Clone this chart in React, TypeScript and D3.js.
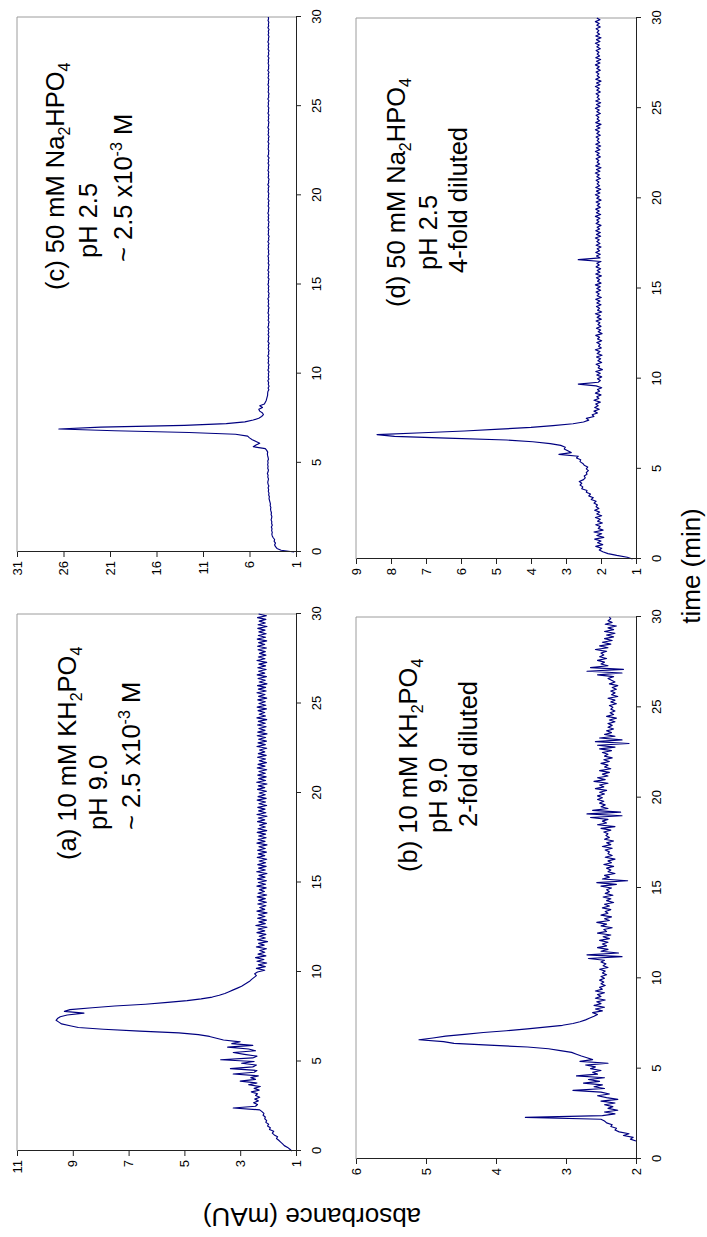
import React, { useRef, useEffect } from "react";
import * as d3 from "d3";

// The figure is laid out landscape (W x H) and then turned a quarter turn
// counter-clockwise to fit the portrait page, like the scanned original.
const PAGE_W = 707;
const PAGE_H = 1237;

const STEP = 0.1; // detector sampling step (min)
const timeTicks = [0, 5, 10, 15, 20, 25, 30];

const ticksA = [1, 3, 5, 7, 9, 11];
const ticksB = [2, 3, 4, 5, 6];
const ticksC = [1, 6, 11, 16, 21, 26, 31];
const ticksD = [1, 2, 3, 4, 5, 6, 7, 8, 9];

// (a) 10 mM KH2PO4, pH 9.0 — t = 0.0 .. 30.0 min
const absA = [
  1.15, 1.22, 1.30, 1.42, 1.48, 1.55, 1.62, 1.70, 1.66, 1.78,
  1.85, 1.80, 1.95, 1.92, 2.02, 1.98, 2.08, 2.05, 2.12, 2.10,
  2.18, 2.15, 2.22, 2.30, 3.25, 2.45, 2.38, 2.52, 2.35, 2.48,
  2.30, 2.45, 2.38, 2.60, 2.32, 2.50, 2.28, 2.70, 2.40, 3.00,
  2.45, 2.62, 2.35, 3.25, 2.50, 2.40, 3.35, 2.55, 2.42, 2.95,
  2.50, 3.70, 2.55, 2.40, 2.85, 3.25, 2.45, 2.70, 3.45, 2.55,
  3.30, 3.00, 3.60, 3.85, 4.10, 4.50, 5.20, 6.60, 7.90, 8.80,
  9.10, 9.40, 9.50, 9.60, 9.55, 9.45, 9.20, 8.60, 9.30, 9.10,
  8.30, 7.50, 6.40, 5.60, 4.90, 4.40, 4.00, 3.75, 3.55, 3.40,
  3.25, 3.10, 2.95, 2.85, 2.75, 2.65, 2.58, 2.50, 2.42, 2.48,
  2.38, 2.12, 2.42, 2.10, 2.35, 2.05, 2.40, 2.15, 2.45, 2.08,
  2.36, 2.12, 2.30, 2.06, 2.42, 2.14, 2.34, 2.02, 2.38, 2.10,
  2.32, 2.08, 2.40, 2.12, 2.36, 2.04, 2.44, 2.10, 2.33, 2.06,
  2.38, 2.11, 2.35, 2.04, 2.40, 2.12, 2.30, 2.08, 2.37, 2.06,
  2.34, 2.10, 2.39, 2.05, 2.36, 2.13, 2.31, 2.07, 2.40, 2.09,
  2.35, 2.06, 2.38, 2.11, 2.33, 2.04, 2.41, 2.10, 2.34, 2.07,
  2.37, 2.09, 2.32, 2.05, 2.39, 2.12, 2.35, 2.06, 2.38, 2.10,
  2.33, 2.04, 2.40, 2.11, 2.36, 2.07, 2.34, 2.09, 2.39, 2.05,
  2.36, 2.10, 2.31, 2.06, 2.38, 2.12, 2.35, 2.04, 2.40, 2.08,
  2.34, 2.11, 2.37, 2.05, 2.33, 2.09, 2.39, 2.07, 2.36, 2.10,
  2.32, 2.06, 2.38, 2.12, 2.35, 2.04, 2.41, 2.09, 2.34, 2.07,
  2.37, 2.10, 2.33, 2.05, 2.39, 2.11, 2.36, 2.06, 2.32, 2.09,
  2.38, 2.07, 2.35, 2.12, 2.31, 2.05, 2.40, 2.10, 2.36, 2.06,
  2.34, 2.09, 2.39, 2.04, 2.37, 2.11, 2.33, 2.07, 2.38, 2.10,
  2.35, 2.05, 2.40, 2.09, 2.32, 2.12, 2.36, 2.06, 2.39, 2.08,
  2.33, 2.10, 2.37, 2.05, 2.34, 2.11, 2.40, 2.07, 2.35, 2.09,
  2.38, 2.04, 2.32, 2.10, 2.36, 2.06, 2.39, 2.12, 2.34, 2.07,
  2.37, 2.09, 2.33, 2.05, 2.40, 2.11, 2.35, 2.08, 2.31, 2.10,
  2.36, 2.06, 2.38, 2.12, 2.34, 2.05, 2.39, 2.09, 2.35, 2.07,
  2.33, 2.11, 2.37, 2.04, 2.36, 2.10, 2.32, 2.08, 2.38, 2.06,
  2.34,
];

// (b) 10 mM KH2PO4, pH 9.0, 2-fold diluted — t = 1.0 .. 30.0 min
const startB = 1.0;
const absB = [
  2.00, 2.08, 2.04, 2.18, 2.10, 2.24, 2.30, 2.28, 2.36, 2.34,
  2.42, 2.45, 2.50, 3.58, 2.48, 2.30, 2.45, 2.26, 2.40, 2.33,
  2.45, 2.30, 2.50, 2.26, 2.42, 2.55, 2.38, 2.50, 2.90, 2.45,
  2.60, 2.48, 2.75, 2.52, 2.68, 2.45, 2.85, 2.55, 2.62, 2.50,
  2.65, 2.58, 2.72, 2.40, 2.80, 2.62, 2.70, 2.78, 2.85, 2.92,
  3.08, 3.25, 3.55, 4.10, 4.60, 4.75, 5.10, 4.90, 4.72, 4.45,
  4.18, 3.85, 3.55, 3.30, 3.05, 2.90, 2.80, 2.72, 2.66, 2.60,
  2.55, 2.62, 2.48, 2.58, 2.45, 2.60, 2.50, 2.56, 2.44, 2.58,
  2.50, 2.55, 2.45, 2.58, 2.48, 2.52, 2.44, 2.50, 2.46, 2.52,
  2.45, 2.50, 2.42, 2.48, 2.44, 2.52, 2.40, 2.47, 2.43, 2.50,
  2.45, 2.68, 2.20, 2.70, 2.25, 2.50, 2.40, 2.55, 2.42, 2.48,
  2.40, 2.52, 2.38, 2.47, 2.36, 2.55, 2.42, 2.46, 2.34, 2.50,
  2.42, 2.56, 2.38, 2.45, 2.35, 2.50, 2.40, 2.44, 2.36, 2.48,
  2.38, 2.45, 2.32, 2.42, 2.36, 2.47, 2.33, 2.44, 2.38, 2.42,
  2.35, 2.50, 2.28, 2.56, 2.12, 2.48, 2.38, 2.45, 2.30, 2.40,
  2.36, 2.42, 2.32, 2.46, 2.35, 2.40, 2.30, 2.44, 2.34, 2.40,
  2.38, 2.44, 2.34, 2.48, 2.36, 2.42, 2.32, 2.45, 2.38, 2.43,
  2.40, 2.46, 2.36, 2.50, 2.30, 2.55, 2.42, 2.48, 2.40, 2.65,
  2.20, 2.70, 2.22, 2.62, 2.40, 2.50, 2.44, 2.52, 2.46, 2.55,
  2.48, 2.55, 2.45, 2.52, 2.42, 2.58, 2.46, 2.52, 2.40, 2.60,
  2.44, 2.55, 2.40, 2.48, 2.38, 2.52, 2.36, 2.45, 2.40, 2.50,
  2.38, 2.46, 2.34, 2.45, 2.40, 2.48, 2.35, 2.52, 2.30, 2.55,
  2.10, 2.58, 2.20, 2.52, 2.30, 2.45, 2.35, 2.42, 2.32, 2.40,
  2.34, 2.40, 2.30, 2.38, 2.28, 2.42, 2.32, 2.37, 2.30, 2.36,
  2.33, 2.38, 2.28, 2.36, 2.30, 2.40, 2.26, 2.35, 2.30, 2.36,
  2.28, 2.34, 2.26, 2.38, 2.30, 2.35, 2.40, 2.32, 2.55, 2.20,
  2.70, 2.18, 2.65, 2.40, 2.50, 2.45, 2.55, 2.42, 2.52, 2.46,
  2.50, 2.42, 2.58, 2.40, 2.52, 2.36, 2.48, 2.34, 2.45, 2.32,
  2.42, 2.30, 2.45, 2.32, 2.40, 2.28, 2.44, 2.34, 2.40, 2.36,
  2.38,
];

// (c) 50 mM Na2HPO4, pH 2.5 — t = 0.0 .. 30.0 min
const absC = [
  1.20, 2.60, 3.05, 3.20, 3.30, 3.20, 3.35, 3.30, 3.45, 3.55,
  3.60, 3.55, 3.62, 3.58, 3.65, 3.55, 3.62, 3.60, 3.68, 3.62,
  3.60, 3.68, 3.64, 3.70, 3.74, 3.70, 3.78, 3.75, 3.80, 3.85,
  3.90, 3.86, 3.94, 3.90, 3.98, 3.94, 4.00, 3.92, 4.00, 4.04,
  4.00, 3.95, 4.04, 4.00, 4.08, 4.00, 3.96, 4.04, 4.00, 4.05,
  4.00, 4.04, 3.96, 4.00, 4.05, 4.08, 4.04, 4.15, 4.30, 5.60,
  5.30, 4.90, 5.30, 5.70, 6.00, 6.20, 7.50, 12.50, 20.50, 26.50,
  22.00, 13.00, 8.50, 6.50, 5.60, 5.00, 4.70, 4.50, 4.60, 4.90,
  5.00, 4.60, 4.90, 4.40, 4.30, 4.20, 4.15, 4.10, 4.05, 4.05,
  4.02, 3.92, 4.00, 3.90, 3.98, 3.94, 4.03, 3.91, 3.99, 3.93,
  3.98, 3.90, 4.02, 3.93, 3.97, 3.89, 4.01, 3.94, 3.99, 3.91,
  4.03, 3.92, 3.96, 3.90, 4.00, 3.93, 3.98, 3.88, 4.02, 3.95,
  3.97, 3.91, 4.01, 3.92, 3.99, 3.90, 4.03, 3.94, 3.96, 3.89,
  4.00, 3.93, 3.98, 3.91, 4.02, 3.95, 3.97, 3.90, 4.01, 3.92,
  3.99, 3.94, 4.03, 3.91, 3.96, 3.89, 4.00, 3.93, 3.98, 3.92,
  4.02, 3.95, 3.97, 3.90, 4.01, 3.93, 3.99, 3.91, 4.03, 3.94,
  3.96, 3.90, 4.00, 3.92, 3.98, 3.95, 4.02, 3.91, 3.97, 3.93,
  4.01, 3.94, 3.99, 3.90, 4.03, 3.92, 3.96, 3.89, 4.00, 3.95,
  3.98, 3.91, 4.02, 3.93, 3.97, 3.90, 4.01, 3.94, 3.99, 3.92,
  4.03, 3.95, 3.96, 3.91, 4.00, 3.93, 3.98, 3.90, 4.02, 3.94,
  3.97, 3.92, 4.01, 3.95, 3.99, 3.91, 4.03, 3.93, 3.96, 3.90,
  4.00, 3.94, 3.98, 3.92, 4.02, 3.95, 3.97, 3.91, 4.01, 3.93,
  3.99, 3.90, 4.03, 3.94, 3.96, 3.92, 4.00, 3.95, 3.98, 3.91,
  4.02, 3.93, 3.97, 3.90, 4.01, 3.94, 3.99, 3.92, 4.03, 3.95,
  3.96, 3.91, 4.00, 3.93, 3.98, 3.90, 4.02, 3.94, 3.97, 3.92,
  4.01, 3.95, 3.99, 3.91, 4.03, 3.93, 3.96, 3.90, 4.00, 3.94,
  3.98, 3.92, 4.02, 3.95, 3.97, 3.91, 4.01, 3.93, 3.99, 3.90,
  4.03, 3.94, 3.96, 3.92, 4.00, 3.95, 3.98, 3.91, 4.02, 3.93,
  3.97, 3.90, 4.01, 3.94, 3.99, 3.92, 4.03, 3.95, 3.96, 3.91,
  4.00, 3.93, 3.98, 3.90, 4.02, 3.94, 3.97, 3.92, 4.01, 3.95,
  3.98,
];

// (d) 50 mM Na2HPO4, pH 2.5, 4-fold diluted — t = 0.0 .. 30.0 min
const absD = [
  1.10, 1.25, 1.55, 1.80, 1.95, 2.05, 1.98, 2.15, 1.95, 2.10,
  2.00, 2.18, 1.92, 2.12, 1.98, 2.20, 1.94, 2.08, 2.02, 2.15,
  1.96, 2.10, 2.02, 2.16, 1.98, 2.12, 2.04, 2.18, 2.06, 2.14,
  2.10, 2.20, 2.14, 2.28, 2.22, 2.35, 2.30, 2.42, 2.40, 2.55,
  2.52, 2.60, 2.55, 2.62, 2.50, 2.45, 2.48, 2.40, 2.42, 2.36,
  2.42, 2.38, 2.48, 2.52, 2.60, 2.58, 2.70, 2.65, 3.20, 2.85,
  2.95, 3.05, 3.02, 3.15, 3.45, 3.95, 4.70, 6.40, 7.90, 8.40,
  7.10, 5.90, 4.90, 4.00, 3.37, 2.80, 2.50, 2.35, 2.42, 2.20,
  2.25, 2.10, 2.20, 2.05, 2.18, 2.08, 2.15, 2.02, 2.20, 2.06,
  2.12, 2.00, 2.16, 2.04, 2.10, 1.98, 2.14, 2.65, 2.08, 2.02,
  2.10, 1.98, 2.12, 2.02, 2.15, 1.96, 2.08, 2.04, 2.14, 1.98,
  2.09, 2.01, 2.13, 1.97, 2.11, 2.03, 2.16, 1.99, 2.07, 2.02,
  2.12, 1.98, 2.10, 2.04, 2.15, 1.97, 2.08, 2.01, 2.13, 2.00,
  2.09, 2.03, 2.14, 1.99, 2.11, 2.02, 2.16, 1.98, 2.10, 2.04,
  2.13, 2.00, 2.12, 2.03, 2.15, 1.99, 2.11, 2.05, 2.14, 2.01,
  2.12, 2.02, 2.16, 2.00, 2.10, 2.04, 2.13, 1.99, 2.15, 2.03,
  2.11, 2.01, 2.14, 2.05, 2.12, 2.00, 2.65, 2.03, 2.13, 2.02,
  2.15, 2.04, 2.11, 2.00, 2.14, 2.03, 2.12, 2.05, 2.16, 2.01,
  2.13, 2.02, 2.15, 2.04, 2.11, 2.00, 2.14, 2.06, 2.12, 2.03,
  2.16, 2.01, 2.13, 2.05, 2.15, 2.02, 2.11, 2.04, 2.14, 2.00,
  2.12, 2.05, 2.16, 2.03, 2.13, 2.01, 2.15, 2.04, 2.11, 2.06,
  2.14, 2.02, 2.12, 2.05, 2.16, 2.03, 2.13, 2.00, 2.15, 2.04,
  2.11, 2.06, 2.14, 2.02, 2.12, 2.05, 2.16, 2.03, 2.13, 2.01,
  2.15, 2.04, 2.11, 2.06, 2.14, 2.02, 2.12, 2.05, 2.16, 2.03,
  2.13, 2.00, 2.15, 2.04, 2.11, 2.06, 2.14, 2.02, 2.12, 2.05,
  2.16, 2.03, 2.13, 2.01, 2.15, 2.04, 2.11, 2.06, 2.14, 2.02,
  2.12, 2.05, 2.16, 2.03, 2.13, 2.00, 2.15, 2.04, 2.11, 2.06,
  2.14, 2.02, 2.12, 2.05, 2.16, 2.03, 2.13, 2.01, 2.15, 2.04,
  2.11, 2.06, 2.14, 2.02, 2.12, 2.05, 2.16, 2.03, 2.13, 2.00,
  2.15, 2.04, 2.11, 2.06, 2.14, 2.02, 2.12, 2.05, 2.16, 2.03,
  2.12,
];

// panel captions: [text, "sub" | "sup" | undefined]
const labelA = [
  [["(a) 10 mM KH"], ["2", "sub"], ["PO"], ["4", "sub"]],
  [["pH 9.0"]],
  [["~ 2.5 x10"], ["-3", "sup"], [" M"]],
];
const labelB = [
  [["(b) 10 mM KH"], ["2", "sub"], ["PO"], ["4", "sub"]],
  [["pH 9.0"]],
  [["2-fold diluted"]],
];
const labelC = [
  [["(c) 50 mM Na"], ["2", "sub"], ["HPO"], ["4", "sub"]],
  [["pH 2.5"]],
  [["~ 2.5 x10"], ["-3", "sup"], [" M"]],
];
const labelD = [
  [["(d) 50 mM Na"], ["2", "sub"], ["HPO"], ["4", "sub"]],
  [["pH 2.5"]],
  [["4-fold diluted"]],
];

const FONT = "Arial, 'Liberation Sans', Helvetica, sans-serif";
const TRACE = "#000080";

// layout in the landscape frame (before the quarter turn)
const panels = [
  { values: absA, start: 0, ticks: ticksA, x0: 86, x1: 623, top: 17, bot: 296,
    label: labelA, pos: [[377, 76], [407, 107], [407, 140]] },
  { values: absC, start: 0, ticks: ticksC, x0: 685, x1: 1220, top: 17, bot: 296,
    label: labelC, pos: [[947, 64], [979, 97], [975, 132]] },
  { values: absB, start: startB, ticks: ticksB, x0: 78, x1: 620, top: 356, bot: 636,
    label: labelB, pos: [[365, 417], [404, 447], [410, 477]] },
  { values: absD, start: 0, ticks: ticksD, x0: 678, x1: 1219, top: 356, bot: 636,
    label: labelD, pos: [[930, 405], [967, 437], [964, 467]] },
];

const Chromatograms = () => {
  const svgRef = useRef<SVGSVGElement | null>(null);

  useEffect(() => {
    const svg = d3.select(svgRef.current);
    svg.selectAll("*").remove();

    const root = svg
      .append("g")
      .attr("transform", `translate(0,${PAGE_H}) rotate(-90)`);

    panels.forEach((p) => {
      const x = d3.scaleLinear().domain([0, 30]).range([p.x0, p.x1]);
      const ext = d3.extent(p.ticks) as [number, number];
      const y = d3.scaleLinear().domain(ext).range([p.bot, p.top]);
      const g = root.append("g");

      // plot area frame (top + right in grey)
      g.append("path")
        .attr("d", `M${p.x0},${p.top}H${p.x1}V${p.bot}`)
        .attr("fill", "none")
        .attr("stroke", "#9c9c9c")
        .attr("stroke-width", 1);

      const pts: [number, number][] = p.values.map((v, i) => [p.start + i * STEP, v]);
      const line = d3
        .line<[number, number]>()
        .x((d) => x(d[0]))
        .y((d) => y(d[1]));

      g.append("path")
        .datum(pts)
        .attr("d", line)
        .attr("fill", "none")
        .attr("stroke", TRACE)
        .attr("stroke-width", 1.15)
        .attr("stroke-linejoin", "round");

      const xAxis = g
        .append("g")
        .attr("transform", `translate(0,${p.bot})`)
        .call(
          d3
            .axisBottom(x)
            .tickValues(timeTicks)
            .tickFormat(d3.format("d"))
            .tickSize(5)
            .tickSizeOuter(0)
            .tickPadding(11)
        );
      const yAxis = g
        .append("g")
        .attr("transform", `translate(${p.x0},0)`)
        .call(
          d3
            .axisLeft(y)
            .tickValues(p.ticks)
            .tickFormat(d3.format("d"))
            .tickSize(5)
            .tickSizeOuter(0)
            .tickPadding(4)
        );

      [xAxis, yAxis].forEach((ax) => {
        ax.attr("font-family", FONT).attr("font-size", 13);
        ax.select(".domain").attr("stroke", "#222");
        ax.selectAll(".tick line").attr("stroke", "#222");
        ax.selectAll(".tick text").attr("fill", "#000");
      });

      // caption
      p.label.forEach((parts, i) => {
        const t = g
          .append("text")
          .attr("x", p.pos[i][0])
          .attr("y", p.pos[i][1])
          .attr("font-family", FONT)
          .attr("font-size", 25.5)
          .attr("fill", "#000");
        let shift = 0;
        parts.forEach(([s, kind]) => {
          const want = kind === "sub" ? 6 : kind === "sup" ? -10 : 0;
          t.append("tspan")
            .attr("dy", want - shift)
            .attr("font-size", kind ? 16 : 25.5)
            .text(s);
          shift = want;
        });
      });
    });

    root
      .append("text")
      .attr("transform", "translate(29,312) rotate(-90)")
      .attr("text-anchor", "middle")
      .attr("font-family", FONT)
      .attr("font-size", 26)
      .text("absorbance (mAU)");

    root
      .append("text")
      .attr("x", 671)
      .attr("y", 700)
      .attr("text-anchor", "middle")
      .attr("font-family", FONT)
      .attr("font-size", 26)
      .text("time (min)");
  }, []);

  return (
    <svg
      ref={svgRef}
      width={PAGE_W}
      height={PAGE_H}
      style={{ position: "absolute", left: 0, top: 0, background: "#fff" }}
    ></svg>
  );
};

export default function App() {
  return <Chromatograms />;
}
